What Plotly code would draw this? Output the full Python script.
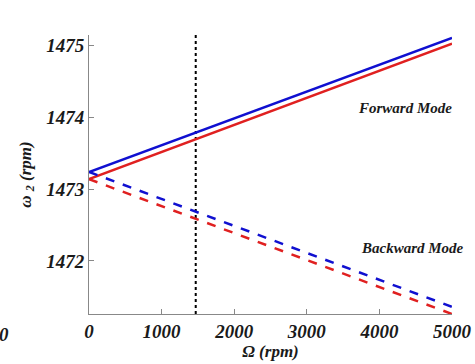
import plotly.graph_objects as go

speed = [0, 5000]
fwd_blue = [1473.24, 1475.11]
fwd_red = [1473.14, 1475.03]
bwd_blue = [1473.24, 1471.36]
bwd_red = [1473.14, 1471.26]
marker_speed = 1470
y_range = [1471.26, 1475.15]
x_ticks = [0, 1000, 2000, 3000, 4000, 5000]
y_ticks = [1472, 1473, 1474, 1475]

font_fam = "Liberation Serif"
fig = go.Figure()
fig.add_trace(go.Scatter(x=[marker_speed, marker_speed], y=y_range, mode="lines",
                         line=dict(color="black", width=2, dash="dot")))
fig.add_trace(go.Scatter(x=speed, y=fwd_blue, mode="lines", line=dict(color="#1010d0", width=2.5)))
fig.add_trace(go.Scatter(x=speed, y=fwd_red, mode="lines", line=dict(color="#e02020", width=2.5)))
fig.add_trace(go.Scatter(x=speed, y=bwd_blue, mode="lines", line=dict(color="#1010d0", width=2.5, dash="dash")))
fig.add_trace(go.Scatter(x=speed, y=bwd_red, mode="lines", line=dict(color="#e02020", width=2.5, dash="dash")))

tickf = dict(family=font_fam, size=19, weight="bold", style="italic", color="#1a1a1a")
fig.update_layout(
    width=475, height=364, showlegend=False,
    margin=dict(l=89, r=23, t=35, b=50, autoexpand=False),
    plot_bgcolor="white", paper_bgcolor="white",
    font=dict(family=font_fam, size=17, color="#1a1a1a"),
    xaxis=dict(range=speed, tickvals=x_ticks, ticktext=[f"<b><i>{v}</i></b>" for v in x_ticks],
               showgrid=False, zeroline=False, automargin=False,
               showline=True, linecolor="#888", linewidth=1, ticks="inside", ticklen=5,
               tickcolor="#888", tickfont=tickf,
               title=dict(text="<b><i>Ω (rpm)</i></b>", font=dict(size=17), standoff=2)),
    yaxis=dict(range=y_range, tickvals=y_ticks, ticktext=[f"<b><i>{v}</i></b>" for v in y_ticks],
               showgrid=False, zeroline=False, automargin=False,
               showline=True, linecolor="#888", linewidth=1, ticks="inside", ticklen=5,
               tickcolor="#888", tickfont=tickf,
               title=dict(text="<b><i>ω <sub>2</sub> (rpm)</i></b>", font=dict(size=17), standoff=10)),
    annotations=[
        dict(text="<b><i>Forward Mode</i></b>", x=0.87, y=0.738, xref="paper", yref="paper",
             xanchor="center", yanchor="middle", showarrow=False, font=dict(size=15)),
        dict(text="<b><i>Backward Mode</i></b>", x=0.89, y=0.237, xref="paper", yref="paper",
             xanchor="center", yanchor="middle", showarrow=False, font=dict(size=15)),
        dict(text="<b><i>0</i></b>", x=-0.235, y=-0.03, xref="paper", yref="paper",
             xanchor="center", yanchor="top", showarrow=False, font=dict(size=19)),
    ],
)
fig.write_html("out.html")
